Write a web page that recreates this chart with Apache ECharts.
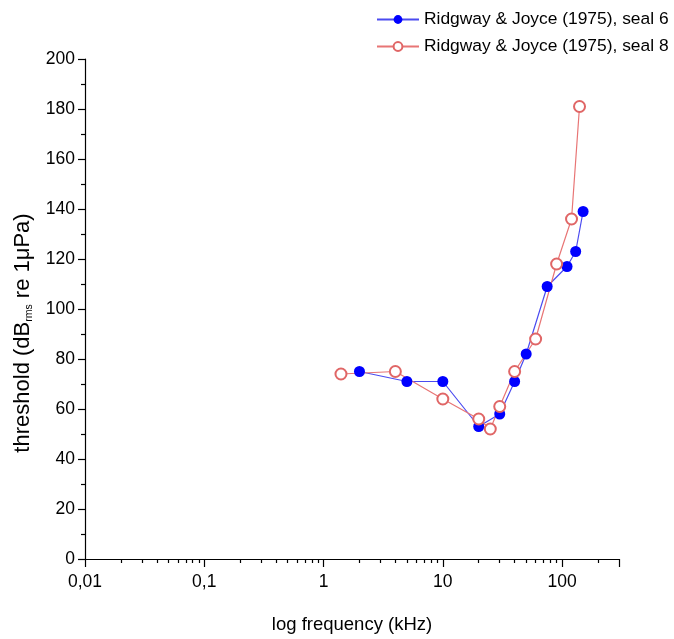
<!DOCTYPE html>
<html>
<head>
<meta charset="utf-8">
<script src="https://cdn.jsdelivr.net/npm/echarts@6/dist/echarts.min.js"></script>
<style>html,body{margin:0;padding:0;background:#fff;overflow:hidden}#c{width:674px;height:639px}</style>
</head>
<body>
<div id="c"></div>
<script>
var seal6Freq = [2, 5, 10, 20, 30, 40, 50, 75, 110, 130, 150];
var seal6Thr  = [75, 71, 71, 53, 58, 71, 82, 109, 117, 123, 139];
var seal8Freq = [1.4, 4, 10, 20, 25, 30, 40, 60, 90, 120, 140];
var seal8Thr  = [74, 75, 64, 56, 52, 61, 75, 88, 118, 136, 181];
var xTickLabels = {0.01: '0,01', 0.1: '0,1', 1: '1', 10: '10', 100: '100'};
var seriesNames = ['Ridgway & Joyce (1975), seal 6', 'Ridgway & Joyce (1975), seal 8'];

function pairs(xs, ys) { return xs.map(function (x, i) { return [x, ys[i]]; }); }

var font = 'Liberation Sans, Arial, sans-serif';
var chart = echarts.init(document.getElementById('c'), null, {renderer: 'canvas'});
chart.setOption({
  animation: false,
  backgroundColor: '#fff',
  grid: {left: 85, right: 55, top: 59, bottom: 78},
  legend: {
    orient: 'vertical', left: 371, top: 6, itemWidth: 42, itemHeight: 11, itemGap: 10,
    textStyle: {fontFamily: font, fontSize: 17.4, color: '#000'},
    data: seriesNames
  },
  xAxis: {
    type: 'log', logBase: 10, min: 0.01, max: 300,
    name: 'log frequency (kHz)', nameLocation: 'middle', nameGap: 56,
    nameTextStyle: {fontFamily: font, fontSize: 18.5, color: '#000'},
    axisLine: {lineStyle: {color: '#000', width: 1.2}},
    axisTick: {show: true, inside: false, length: 8, lineStyle: {color: '#000', width: 1.2}},
    minorTick: {show: true, splitNumber: 9, length: 4, lineStyle: {color: '#000', width: 1.2}},
    axisLabel: {fontFamily: font, fontSize: 17.5, color: '#000', margin: 14,
      formatter: function (v) { return xTickLabels[+(+v).toPrecision(3)] || ''; }},
    splitLine: {show: false}
  },
  yAxis: {
    type: 'value', min: 0, max: 200, interval: 20,
    name: '{m|threshold (dB}{s|rms}{m| re 1μPa)}', nameLocation: 'middle', nameGap: 42,
    nameTextStyle: {fontFamily: font, fontSize: 22, color: '#000', padding: [0, 48, 0, 0],
      rich: {m: {fontFamily: font, fontSize: 22, color: '#000'},
             s: {fontFamily: font, fontSize: 10.5, color: '#000', padding: [13, 0, 0, 0]}}},
    axisLine: {show: true, lineStyle: {color: '#000', width: 1.2}},
    axisTick: {show: true, inside: false, length: 7, lineStyle: {color: '#000', width: 1.2}},
    minorTick: {show: true, splitNumber: 2, length: 4, lineStyle: {color: '#000', width: 1.2}},
    axisLabel: {fontFamily: font, fontSize: 17.5, color: '#000', margin: 10},
    splitLine: {show: false}
  },
  series: [
    {
      name: seriesNames[0], type: 'line', data: pairs(seal6Freq, seal6Thr),
      symbol: 'circle', symbolSize: 11,
      lineStyle: {color: '#4b4bf0', width: 1.2},
      itemStyle: {color: '#0000ff', borderColor: '#0000ff', borderWidth: 0}
    },
    {
      name: seriesNames[1], type: 'line', data: pairs(seal8Freq, seal8Thr),
      symbol: 'emptyCircle', symbolSize: 11,
      lineStyle: {color: '#e87575', width: 1.2},
      itemStyle: {color: '#e06666', borderColor: '#e06666', borderWidth: 1.5}
    }
  ]
});
</script>
</body>
</html>
